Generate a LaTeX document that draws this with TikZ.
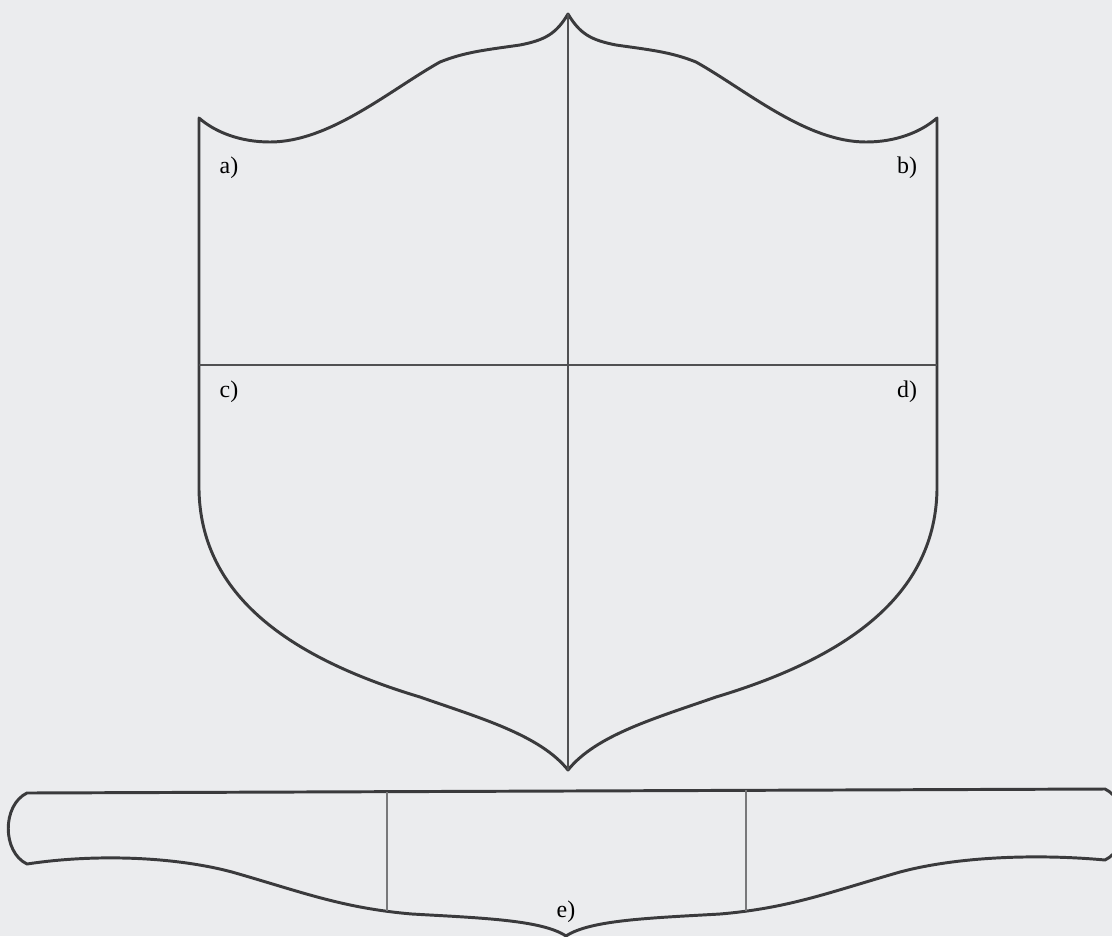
\documentclass[tikz,border=0pt]{standalone}
\usepackage{fontspec}
\setmainfont{Liberation Serif}
\usepackage{tikz}
\usetikzlibrary{positioning,calc}
\definecolor{cPaper}{HTML}{EBECEE}
\definecolor{cLine}{HTML}{3A3A3C}
\definecolor{cRule}{HTML}{505052}
\definecolor{cThin}{HTML}{78787A}
\tikzset{
  outline/.style={draw=cLine, line width=2.1pt, line join=round},
  divider/.style={draw=cRule, line width=1.3pt},
  thin/.style={draw=cThin, line width=1pt},
  lbl/.style={font=\fontsize{17}{20}\selectfont, text=black, inner sep=0pt},
}

\begin{document}
\begin{tikzpicture}[x=0.025cm, y=-0.025cm]
  \fill[cPaper] (0,0) rectangle (1112,936);
  \useasboundingbox (0,0) rectangle (1112,936);
  \clip (0,0) rectangle (1112,936);

  % shield
  \draw[outline] (568,14) .. controls (580,34) and (591,40) .. (616,45)
    .. controls (651,50) and (671,52) .. (696,62)
    .. controls (746,90) and (806,142) .. (866,142)
    .. controls (896,142) and (921,132) .. (937,118) -- (937,490)
    .. controls (935,590) and (856,655) .. (716,697)
    .. controls (656,718) and (596,735) .. (568,770)
    .. controls (540,735) and (480,718) .. (420,697)
    .. controls (280,655) and (201,590) .. (199,490) -- (199,118)
    .. controls (215,132) and (240,142) .. (270,142)
    .. controls (330,142) and (390,90) .. (440,62)
    .. controls (465,52) and (485,50) .. (520,45)
    .. controls (545,40) and (556,34) .. (568,14) -- cycle;

  \coordinate (cusp) at (568,14);
  \coordinate (tip) at (568,770);
  \coordinate (midL) at (199,365);
  \coordinate (midR) at (937,365);
  \draw[divider] (cusp) -- (tip);
  \draw[divider] (midL) -- (midR);

  \node[lbl] (qa) at (229,168) {a)};
  \node[lbl] (qb) at (907,168) {b)};
  \node[lbl] (qc) at (229,392) {c)};
  \node[lbl] (qd) at (907,392) {d)};

  % banner
  \draw[outline] (27,793) -- (1105,789)
    .. controls (1130,801) and (1130,848) .. (1105,860)
    .. controls (1040,854) and (960,856) .. (900,872)
    .. controls (830,892) and (790,908) .. (720,914)
    .. controls (650,918) and (590,920) .. (566,936)
    .. controls (542,920) and (482,918) .. (412,914)
    .. controls (342,908) and (302,892) .. (232,872)
    .. controls (172,856) and (92,854) .. (27,864)
    .. controls (2,852) and (2,805) .. (27,793) -- cycle;

  \coordinate (bl1) at (387,792);
  \coordinate (bl2) at (387,911);
  \coordinate (br1) at (746,790);
  \coordinate (br2) at (746,911);
  \draw[thin] (bl1) -- (bl2);
  \draw[thin] (br1) -- (br2);

  \node[lbl] (qe) at (566,912) {e)};
\end{tikzpicture}
\end{document}
